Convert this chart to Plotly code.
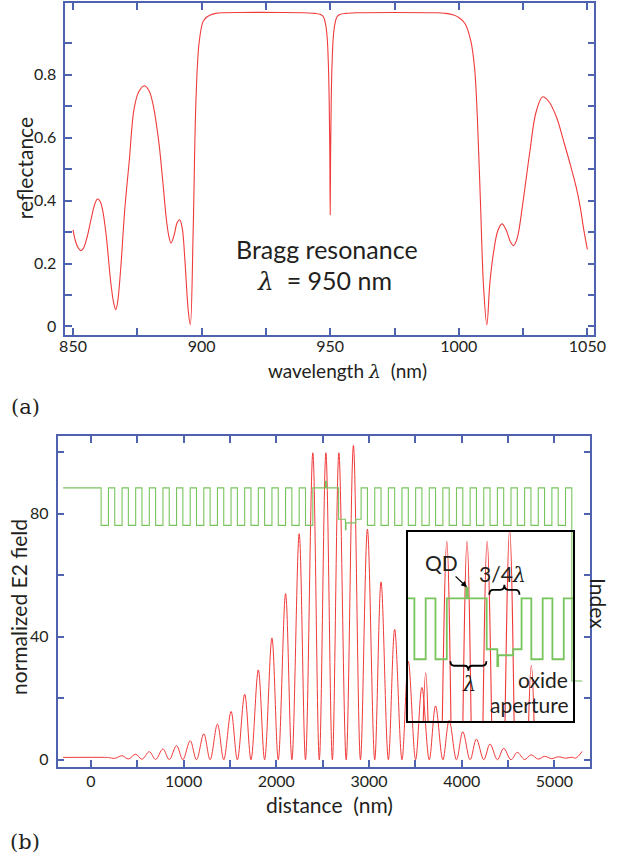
import plotly.graph_objects as go

W, H = 617, 861
AXIS_BLUE = "#4f62b0"
RED = "#f03a3a"
GREEN = "#78c45c"
TEXT = "#231f20"
SANS = "Lato"
SERIF = "DejaVu Serif"

# ---------------- (a) reflectance spectrum ----------------
wavelength_nm = [
    850.0, 851.0, 852.0, 853.0, 854.0, 855.5, 857.0, 858.5, 859.5, 860.5,
    861.5, 862.8, 864.7, 865.8, 866.6, 867.3, 868.5, 870.1, 871.9, 873.7,
    875.5, 877.7, 879.5, 881.0, 883.3, 884.8, 886.3, 887.3, 888.1, 889.3,
    890.5, 891.5, 892.5, 893.5, 894.8, 895.6, 896.7, 897.8, 899.0, 900.5,
    901.8, 903.4, 905.5, 908.0, 915.0, 930.0, 940.0, 944.0, 946.0, 947.3,
    948.2, 948.8, 949.3, 949.6, 949.85, 950.0, 950.15, 950.4, 950.7, 951.2,
    951.8, 952.7, 954.0, 956.0, 960.0, 975.0, 990.0, 995.0, 998.0, 1000.0,
    1002.4, 1004.6, 1006.1, 1007.2, 1008.4, 1009.6, 1010.9, 1012.1, 1013.6, 1015.2,
    1016.8, 1018.5, 1020.0, 1021.3, 1022.7, 1024.7, 1026.2, 1027.7, 1030.0, 1032.6,
    1035.0, 1038.0, 1041.0, 1043.5, 1045.6, 1047.2, 1048.6, 1050.0,
]
reflectance = [
    0.307, 0.270, 0.250, 0.241, 0.248, 0.285, 0.340, 0.390, 0.405, 0.398,
    0.370, 0.296, 0.138, 0.075, 0.053, 0.075, 0.180, 0.370, 0.530, 0.690,
    0.745, 0.765, 0.750, 0.710, 0.590, 0.470, 0.340, 0.285, 0.265, 0.290,
    0.330, 0.339, 0.310, 0.210, 0.050, 0.005, 0.300, 0.720, 0.900, 0.968,
    0.982, 0.990, 0.995, 0.997, 0.998, 0.998, 0.997, 0.995, 0.992, 0.985,
    0.960, 0.920, 0.830, 0.720, 0.550, 0.355, 0.550, 0.720, 0.830, 0.920,
    0.960, 0.985, 0.992, 0.995, 0.997, 0.998, 0.997, 0.995, 0.990, 0.982,
    0.963, 0.910, 0.825, 0.667, 0.400, 0.130, 0.005, 0.140, 0.240, 0.305,
    0.326, 0.305, 0.270, 0.257, 0.280, 0.380, 0.470, 0.560, 0.680, 0.730,
    0.715, 0.665, 0.582, 0.510, 0.444, 0.380, 0.307, 0.245,
]

# ---------------- (b) |E|^2 standing wave ----------------
field_x_nm = [
    -300, 150, 189, 257, 336, 404, 483, 551, 630, 698,
    777, 845, 924, 992, 1071, 1139, 1218, 1286, 1365, 1433,
    1512, 1580, 1659, 1727, 1806, 1874, 1953, 2021, 2100, 2168,
    2247, 2315, 2394, 2464, 2535, 2605, 2675, 2754, 2832, 2908,
    2983, 3062, 3130, 3209, 3277, 3356, 3424, 3503, 3571, 3650,
    3718, 3797, 3865, 3944, 4012, 4091, 4159, 4238, 4306, 4385,
    4453, 4532, 4600, 4679, 4747, 4826, 4894, 4973, 5041, 5120,
    5188, 5230, 5300,
]
field_e2 = [
    0.76, 0.76, 0.72, 0.45, 1.3, 0.25, 1.8, 0.15, 2.6, 0.10,
    3.5, 0.05, 4.6, 0.0, 6.2, 0.0, 8.4, 0.0, 11.6, 0.0,
    15.7, 0.0, 21.3, 0.0, 29.2, 0.0, 39.6, 0.0, 54.0, 0.0,
    73.5, 0.0, 99.8, 0.0, 99.8, 0.0, 99.8, 0.0, 102.2, 0.0,
    75.0, 0.0, 57.8, 0.0, 42.4, 0.0, 32.0, 0.0, 23.5, 0.0,
    17.5, 0.0, 12.8, 0.0, 9.1, 0.0, 6.7, 0.0, 5.1, 0.0,
    3.7, 0.0, 2.4, 0.05, 1.6, 0.2, 1.1, 0.35, 0.95, 0.5,
    0.8, 0.55, 2.7,
]

# refractive-index profile (arb. units on the same vertical scale): layer start, level
layer_start_nm = [
    -300, 110, 189, 257, 336, 404, 483, 551, 630, 698,
    777, 845, 924, 992, 1071, 1139, 1218, 1286, 1365, 1433,
    1512, 1580, 1659, 1727, 1806, 1874, 1953, 2021, 2100, 2168,
    2247, 2315, 2394, 2530, 2540, 2672, 2746, 2752, 2857, 2915,
    2983, 3062, 3130, 3209, 3277, 3356, 3424, 3503, 3571, 3650,
    3718, 3797, 3865, 3944, 4012, 4091, 4159, 4238, 4306, 4385,
    4453, 4532, 4600, 4679, 4747, 4826, 4894, 4973, 5041, 5120,
    5188, 5300,
]
layer_level = [
    88.4, 76.2, 88.4, 76.2, 88.4, 76.2, 88.4, 76.2, 88.4, 76.2,
    88.4, 76.2, 88.4, 76.2, 88.4, 76.2, 88.4, 76.2, 88.4, 76.2,
    88.4, 76.2, 88.4, 76.2, 88.4, 76.2, 88.4, 76.2, 88.4, 76.2,
    88.4, 76.2, 88.4, 90.5, 88.4, 78.2, 74.8, 77.0, 78.2, 88.4,
    76.2, 88.4, 76.2, 88.4, 76.2, 88.4, 76.2, 88.4, 76.2, 88.4,
    76.2, 88.4, 76.2, 88.4, 76.2, 88.4, 76.2, 88.4, 76.2, 88.4,
    76.2, 88.4, 76.2, 88.4, 76.2, 88.4, 76.2, 88.4, 76.2, 88.4,
    25.6, 25.6,
]

# axis ticks
wl_ticks = [850, 875, 900, 925, 950, 975, 1000, 1025, 1050]
wl_labels = ["850", "", "900", "", "950", "", "1000", "", "1050"]
refl_ticks = [0, 0.1, 0.2, 0.3, 0.4, 0.5, 0.6, 0.7, 0.8, 0.9]
refl_labels = ["0", "", "0.2", "", "0.4", "", "0.6", "", "0.8", ""]
dist_ticks = [0, 500, 1000, 1500, 2000, 2500, 3000, 3500, 4000, 4500, 5000]
dist_labels = ["0", "", "1000", "", "2000", "", "3000", "", "4000", "", "5000"]
e2_ticks = [0, 20, 40, 60, 80, 100]
e2_labels = ["0", "", "40", "", "80", ""]


def fx(x):
    return x / W


def fy(y):
    return 1 - y / H


fig = go.Figure()

fig.add_trace(go.Scatter(
    x=wavelength_nm, y=reflectance, mode="lines",
    line=dict(color=RED, width=1.1, shape="spline"),
    xaxis="x", yaxis="y", hoverinfo="skip"))

# main field panel
fig.add_trace(go.Scatter(
    x=field_x_nm, y=field_e2, mode="lines",
    line=dict(color=RED, width=1, shape="spline"),
    xaxis="x2", yaxis="y2", hoverinfo="skip"))
fig.add_trace(go.Scatter(
    x=layer_start_nm, y=layer_level, mode="lines",
    line=dict(color=GREEN, width=1.1, shape="hv"),
    xaxis="x2", yaxis="y2", hoverinfo="skip"))

# magnified view around the cavity
fig.add_trace(go.Scatter(
    x=field_x_nm, y=field_e2, mode="lines",
    line=dict(color=RED, width=1.1, shape="spline"),
    xaxis="x3", yaxis="y3", hoverinfo="skip"))
fig.add_trace(go.Scatter(
    x=layer_start_nm, y=layer_level, mode="lines",
    line=dict(color=GREEN, width=1.8, shape="hv"),
    xaxis="x3", yaxis="y3", hoverinfo="skip"))

frame = dict(
    showgrid=False, zeroline=False, showline=True, mirror="ticks",
    linecolor=AXIS_BLUE, linewidth=1.6, ticks="inside", tickcolor=AXIS_BLUE,
    tickwidth=1.6, ticklen=7, tickmode="array",
    tickfont=dict(family=SANS, size=16, color=TEXT),
)

inset_frame = dict(
    showgrid=False, zeroline=False, showline=True, mirror=True,
    linecolor="black", linewidth=2, ticks="", showticklabels=False,
)

fig.update_layout(
    width=W, height=H,
    margin=dict(l=0, r=0, t=0, b=0),
    paper_bgcolor="white", plot_bgcolor="rgba(0,0,0,0)",
    showlegend=False,
    font=dict(family=SANS, color=TEXT),
    xaxis=dict(frame, domain=[fx(61), fx(605)], range=[847, 1052.7], anchor="y",
               tickvals=wl_ticks, ticktext=wl_labels, ticklabelstandoff=-4),
    yaxis=dict(frame, domain=[fy(335), fy(3)], range=[-0.026, 1.028], anchor="x",
               tickvals=refl_ticks, ticktext=refl_labels, ticklabelstandoff=4),
    xaxis2=dict(frame, domain=[fx(53), fx(601)], range=[-360, 5389], anchor="y2",
                tickvals=dist_ticks, ticktext=dist_labels, ticklabelstandoff=-1),
    yaxis2=dict(frame, domain=[fy(768), fy(437)], range=[-2.4, 105.1], anchor="x2",
                tickvals=e2_ticks, ticktext=e2_labels, ticklabelstandoff=4),
    xaxis3=dict(inset_frame, domain=[fx(413.3), fx(583)], range=[2123, 3273], anchor="y3"),
    yaxis3=dict(inset_frame, domain=[fy(722), fy(532.5)], range=[63.8, 101.7], anchor="x3"),
)

LAM = '<span style="font-family:DejaVu Serif"><i>λ</i></span>'
NB = "\u00a0"


def label(text, x, y, size, angle=0, family=SANS, xanchor="center"):
    fig.add_annotation(
        text=text, x=fx(x), y=fy(y), xref="paper", yref="paper",
        xanchor=xanchor, yanchor="middle", showarrow=False, textangle=angle,
        font=dict(family=family, size=size, color=TEXT))


# panel (a) texts
label("reflectance", 19, 168, 21, angle=-90)
label("wavelength" + NB + LAM + NB + NB + "(nm)", 351, 371, 19)
label("Bragg resonance", 330, 249, 25)
label(LAM + NB + NB + "= 950 nm", 328, 281, 25)
label("(a)", 3, 407, 21, family=SERIF, xanchor="left")

# panel (b) texts
label("normalized E2 field", 13, 608, 21, angle=-90)
label("distance" + NB + NB + "(nm)", 333, 805, 21)
label("Index", 610, 604, 21, angle=90)
label("(b)", 2, 843, 21, family=SERIF, xanchor="left")

# inset texts
label("3/4" + LAM, 511, 575, 21)
label(LAM, 476, 685, 21)
label("oxide", 552, 680, 21)
label("aperture", 538, 705, 21)

fig.add_annotation(
    text="QD", x=2535, y=90.6, xref="x3", yref="y3",
    ax=-26, ay=-25, showarrow=True, arrowhead=2, arrowsize=1, arrowwidth=1.2,
    arrowcolor="black", standoff=0,
    font=dict(family=SANS, size=21, color=TEXT))


def brace(x1, x2, y_end, y_mid, y_tip):
    """Horizontal curly brace in pixel coordinates, drawn as a paper-space path."""
    xm = (x1 + x2) / 2
    r = 4
    pts = [
        ("M", [(x1, y_end)]),
        ("Q", [(x1, y_mid), (x1 + r, y_mid)]),
        ("L", [(xm - r, y_mid)]),
        ("Q", [(xm, y_mid), (xm, y_tip)]),
        ("Q", [(xm, y_mid), (xm + r, y_mid)]),
        ("L", [(x2 - r, y_mid)]),
        ("Q", [(x2, y_mid), (x2, y_end)]),
    ]
    path = " ".join(
        cmd + " " + " ".join(f"{fx(a):.5f},{fy(b):.5f}" for a, b in p) for cmd, p in pts)
    fig.add_shape(type="path", path=path, xref="paper", yref="paper",
                  line=dict(color="black", width=1.8))


brace(497, 528, 595.5, 590.5, 585.5)   # over the 3/4-lambda section
brace(457, 494, 662.0, 666.5, 671.5)   # under the lambda cavity

fig.write_html("out.html")
